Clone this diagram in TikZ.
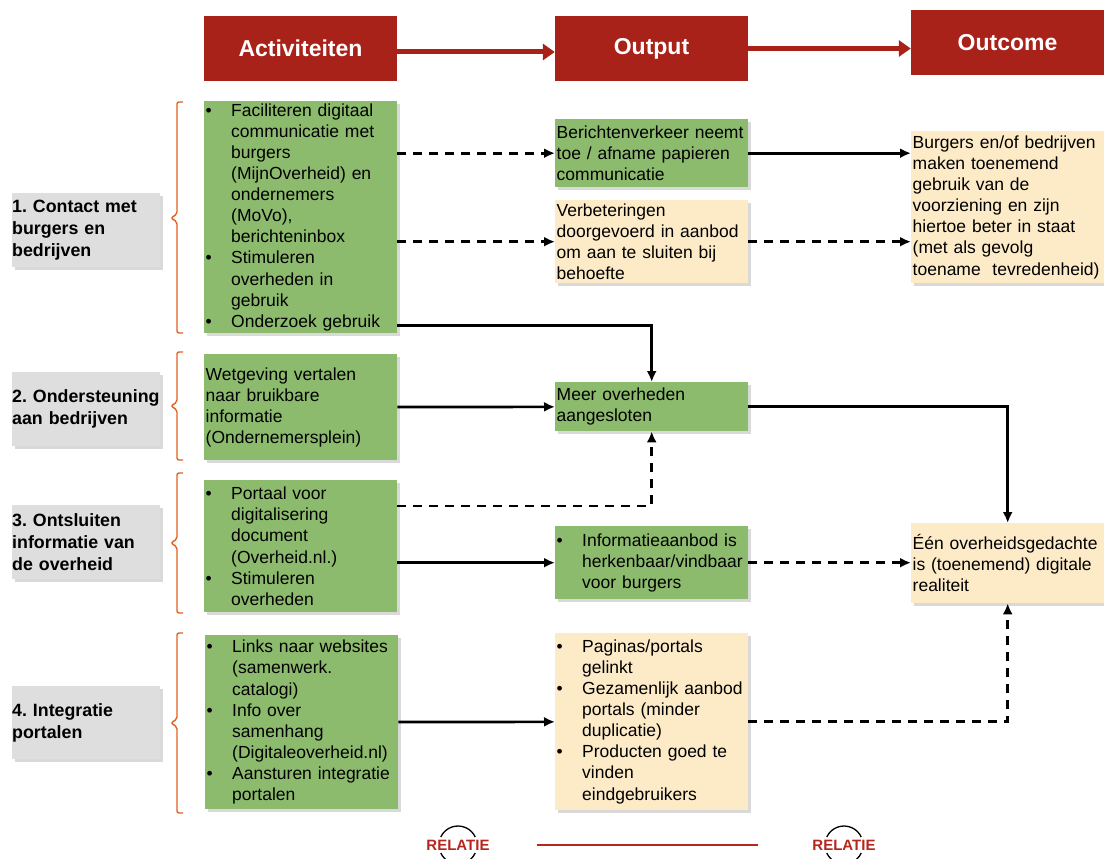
\documentclass[tikz,border=0pt]{standalone}
\usepackage{fontspec}
\setmainfont{Liberation Sans}
\usetikzlibrary{arrows.meta,shadows}

\definecolor{kopRood}{HTML}{A8221A}
\definecolor{groen}{HTML}{8DBB6E}
\definecolor{creme}{HTML}{FDEBC8}
\definecolor{grijs}{HTML}{DEDEDE}
\definecolor{accolade}{HTML}{E2601E}
\definecolor{relatieRood}{HTML}{B5271E}

\newcommand{\bul}{\makebox[25.5pt][l]{\textbullet}}
\newcommand{\ins}{\makebox[25.5pt]{}}
\frenchspacing
\hyphenpenalty=10000

\begin{document}
\begin{tikzpicture}[x=1pt,y=-1pt]
		\tikzset{
			kop/.style = {fill=kopRood, text=white, font=\bfseries\fontsize{23}{27}\selectfont,
					minimum width=193pt, minimum height=65pt, inner sep=0pt},
			kopPijl/.style = {kopRood, line width=5pt, -{Triangle[length=12pt,width=16pt]}},
			blok/.style = {font=\fontsize{17.5}{21.1}\selectfont, align=left, text width=190pt,
					inner xsep=1.5pt, inner ysep=0pt, anchor=north west,
					drop shadow={shadow xshift=2.5pt, shadow yshift=-3pt, opacity=0.3}},
			groenblok/.style = {blok, fill=groen},
			geelblok/.style = {blok, fill=creme},
			rij/.style = {fill=grijs, font=\bfseries\fontsize{17.8}{22}\selectfont, align=left,
					text width=148pt, inner xsep=0pt, inner ysep=0pt, anchor=north west,
					drop shadow={shadow xshift=2.5pt, shadow yshift=-3pt, opacity=0.3}},
			haak/.style = {accolade, line width=1.4pt, rounded corners=2pt},
			verband/.style = {line width=2.7pt, -{Latex[length=11pt,width=10pt]}},
			onzeker/.style = {verband, dash pattern=on 9pt off 7pt},
			relatie/.pic = {
					\draw[line width=1.3pt] (25:19) arc[start angle=25, end angle=155, radius=19];
					\draw[line width=1.3pt] (205:19) arc[start angle=205, end angle=335, radius=19];
					\node[text=relatieRood, font=\bfseries\fontsize{15}{16}\selectfont, inner sep=0pt] (-tekst) {RELATIE};
				}}

		\useasboundingbox (0,0) rectangle (1104,859);

		\node[kop] (act) at (300.5,48.5) {Activiteiten};
		\node[kop] (outp) at (651.5,48.5) {Output};
		\node[kop] (outc) at (1007.5,43) {Outcome};
		\draw[kopPijl] ([yshift=-3.5pt]act.east) -- ([yshift=-3.5pt]act.east -| outp.west);
		\draw[kopPijl] (outp.east) -- (outp.east -| outc.west);

		\node[rij, minimum height=74pt] (r1) at (12,193) {1. Contact met\\burgers en\\bedrijven};
		\node[rij, minimum height=74pt] (r2) at (12,372) {2. Ondersteuning\\aan bedrijven};
		\node[rij, minimum height=74pt] (r3) at (12,505) {3. Ontsluiten\\informatie van\\de overheid};
		\node[rij, minimum height=73pt] (r4) at (12,686) {4. Integratie\\portalen};

		\foreach \boven/\punt/\onder in {102/218/333, 352/406/460, 473/543/613, 633/723/813}
			\draw[haak] (183,\boven) -- (177,\boven) -- (177,\punt-4) -- (171,\punt)
				-- (177,\punt+4) -- (177,\onder) -- (183,\onder);

		\node[groenblok, minimum height=232pt] (act1) at (204,101) {\bul Faciliteren digitaal\\ \ins communicatie met\\ \ins burgers\\ \ins (MijnOverheid) en\\ \ins ondernemers\\ \ins (MoVo),\\ \ins berichteninbox\\ \bul Stimuleren\\ \ins overheden in\\ \ins gebruik\\ \bul Onderzoek gebruik};
		\node[groenblok, minimum height=106pt] (act2) at (204,354) {Wetgeving vertalen\\naar bruikbare\\informatie\\(Ondernemersplein)};
		\node[groenblok, minimum height=132pt] (act3) at (204,480) {\bul Portaal voor\\ \ins digitalisering\\ \ins document\\ \ins (Overheid.nl.)\\ \bul Stimuleren\\ \ins overheden};
		\node[groenblok, minimum height=174pt] (act4) at (205,635) {\bul Links naar websites\\ \ins (samenwerk.\\ \ins catalogi)\\ \bul Info over\\ \ins samenhang\\ \ins (Digitaleoverheid.nl)\\ \bul Aansturen integratie\\ \ins portalen};

		\node[groenblok, minimum height=68pt] (out1) at (555,119) {Berichtenverkeer neemt\\toe / afname papieren\\communicatie};
		\node[geelblok, minimum height=83pt] (out2) at (555,200) {Verbeteringen\\doorgevoerd in aanbod\\om aan te sluiten bij\\behoefte};
		\node[groenblok, minimum height=49pt] (meer) at (555,382) {Meer overheden\\aangesloten};
		\node[groenblok, minimum height=73pt] (info) at (555,526) {\bul Informatieaanbod is\\ \ins herkenbaar/vindbaar\\ \ins voor burgers};
		\node[geelblok, minimum height=177pt] (pag) at (555,633) {\bul Paginas/portals\\ \ins gelinkt\\ \bul Gezamenlijk aanbod\\ \ins portals (minder\\ \ins duplicatie)\\ \bul Producten goed te\\ \ins vinden\\ \ins eindgebruikers};

		\node[geelblok, minimum height=152pt] (outc1) at (911,131) {Burgers en/of bedrijven\\maken toenemend\\gebruik van de\\voorziening en zijn\\hiertoe beter in staat\\(met als gevolg\\toename~~tevredenheid)};
		\node[geelblok, minimum height=80pt] (een) at (911,523) {Één overheidsgedachte\\is (toenemend) digitale\\realiteit};

		\draw[onzeker] (act1.east |- out1) -- (out1);
		\draw[onzeker] (act1.east |- out2) -- (out2);
		\draw[verband] ([yshift=8pt]act1.south east) -| (meer.north);
		\draw[verband] (out1) -- (out1 -| outc1.west);
		\draw[onzeker] (out2) -- (out2 -| outc1.west);
		\draw[verband] (act2) -- (meer);
		\draw[onzeker] ([yshift=-26pt]act3.north east) -| (meer.south);
		\draw[verband] (act3.east |- info) -- (info);
		\draw[verband] (meer) -| (een.north);
		\draw[onzeker] (info) -- (info -| een.west);
		\draw[verband] (act4) -- (pag);
		\draw[onzeker] (pag) -| (een.south);

		\pic (rel1) at (458,845) {relatie};
		\pic (rel2) at (844,845) {relatie};
		\coordinate (lijnA) at (537,845);
		\coordinate (lijnB) at (758,845);
		\draw[relatieRood, line width=1.2pt] (lijnA) -- (lijnB);
	\end{tikzpicture}
\end{document}
